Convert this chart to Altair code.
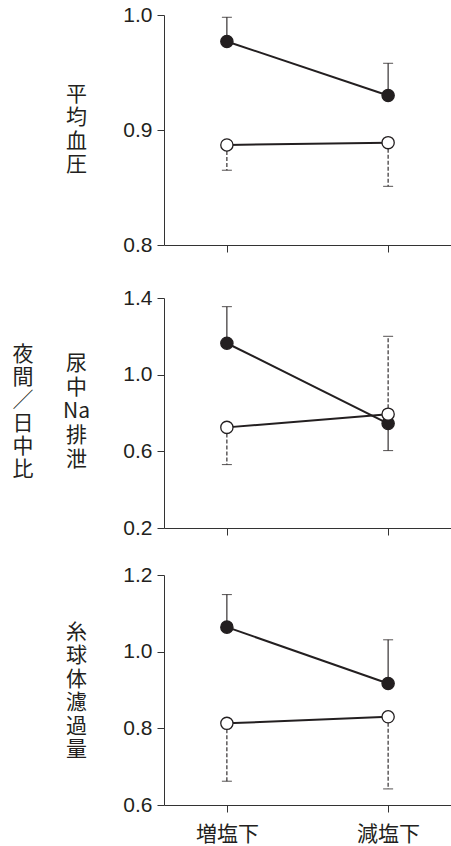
import altair as alt
import pandas as pd

# Conditions on the x axis
conditions = ["増塩下", "減塩下"]

# Stacked (vertical) titles for each panel, with the y of the first line
panel_titles = [
    ["平", "均", "血", "圧"],
    ["尿", "中", "Na", "排", "泄"],
    ["糸", "球", "体", "濾", "過", "量"],
]
title_first_line_y = [79, 65, 57]
title_line_height = [23.5, 24, 23.5]
outer_title = "夜\n間\n／\n日\n中\n比"

# Night/day ratios: filled-circle group and open-circle group, with error-bar ends
solid_mean = [[0.977, 0.930], [1.164, 0.745], [1.064, 0.917]]
solid_err = [[0.998, 0.958], [1.355, 0.604], [1.149, 1.031]]
hollow_mean = [[0.887, 0.889], [0.725, 0.794], [0.813, 0.830]]
hollow_err = [[0.865, 0.851], [0.531, 1.200], [0.662, 0.642]]

y_domains = [[0.8, 1.0], [0.2, 1.4], [0.6, 1.2]]
y_ticks = [[0.8, 0.9, 1.0], [0.2, 0.6, 1.0, 1.4], [0.6, 0.8, 1.0, 1.2]]

INK = "#231f20"
AXIS = "#333333"
LATIN = "Liberation Sans"
CJK = "Noto Sans CJK JP"

groups = ["solid", "hollow"]


def panel(i):
    rows = []
    for j, cond in enumerate(conditions):
        rows.append({"condition": cond, "group": "solid",
                     "mean": solid_mean[i][j], "err": solid_err[i][j]})
        rows.append({"condition": cond, "group": "hollow",
                     "mean": hollow_mean[i][j], "err": hollow_err[i][j]})
    df = pd.DataFrame(rows)
    last = i == 2

    x = alt.X(
        "condition:N",
        scale=alt.Scale(type="point", domain=conditions, padding=0.39),
        axis=alt.Axis(
            title=None,
            labels=last,
            labelAngle=0,
            labelFont=CJK,
            labelFontSize=21,
            labelPadding=11,
            labelColor=INK,
        ),
    )
    y = alt.Y(
        "mean:Q",
        scale=alt.Scale(domain=y_domains[i], nice=False, zero=False),
        axis=alt.Axis(
            values=y_ticks[i],
            format=".1f",
            title=panel_titles[i],
            titleAngle=0,
            titleFont=CJK,
            titleFontSize=21,
            titleFontWeight="normal",
            titleLineHeight=title_line_height[i],
            titleColor=INK,
            titleX=-88,
            titleY=title_first_line_y[i],
            titleAlign="center",
            titleBaseline="middle",
        ),
    )

    base = alt.Chart(df)
    dash = alt.StrokeDash(
        "group:N",
        scale=alt.Scale(domain=groups, range=[[1, 0], [4, 2]]),
        legend=None,
    )
    bars = base.mark_rule(color=INK, strokeWidth=1.1).encode(
        x=x, y=y, y2="err:Q", strokeDash=dash
    )
    caps = base.mark_tick(color=INK, size=10, thickness=1.1).encode(
        x=x, y=alt.Y("err:Q")
    )
    lines = base.mark_line(color=INK, strokeWidth=2).encode(
        x=x, y=y, detail="group:N"
    )
    points = base.mark_point(
        shape="circle", size=150, stroke=INK, strokeWidth=1.3, opacity=1
    ).encode(
        x=x,
        y=y,
        fill=alt.Fill(
            "group:N",
            scale=alt.Scale(domain=groups, range=[INK, "white"]),
            legend=None,
        ),
    )
    layers = [bars, caps, lines, points]
    if i == 0:
        # transparent spacer below the first panel's axis, widening the gap
        spacer = alt.Chart(pd.DataFrame({"s": [0]})).mark_rule(opacity=0).encode(
            x=alt.value(0), y=alt.value(230), y2=alt.value(246)
        )
        layers.append(spacer)
    if i == 1:
        outer = alt.Chart(pd.DataFrame({"t": [outer_title]})).mark_text(
            lineBreak="\n",
            font=CJK,
            fontSize=21,
            lineHeight=23,
            align="center",
            baseline="middle",
            color=INK,
        ).encode(x=alt.value(-141), y=alt.value(57), text="t:N")
        layers.append(outer)
    return alt.layer(*layers).properties(width=287, height=230)


chart = (
    alt.vconcat(panel(0), panel(1), panel(2), spacing=26)
    .properties(
        padding={"left": 12, "top": 4, "right": 0, "bottom": 3},
        background="white",
    )
    .configure_view(stroke=None)
    .configure_axis(
        grid=False,
        domainColor=AXIS,
        tickColor=AXIS,
        domainWidth=1,
        tickWidth=1,
        tickSize=7,
        labelFont=LATIN,
        labelFontSize=21,
        labelColor=INK,
        labelPadding=5,
    )
)

chart.save("out.html", embed_options={"renderer": "svg", "actions": False})
